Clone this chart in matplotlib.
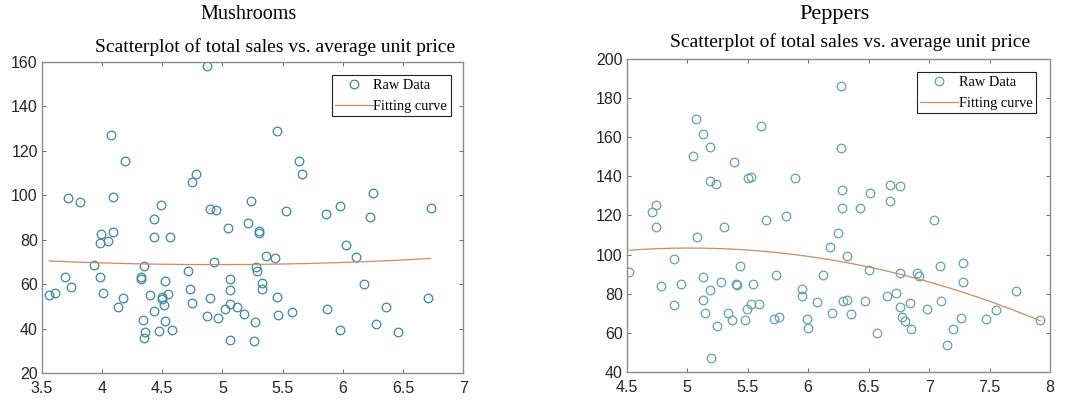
import matplotlib
matplotlib.use('Agg')
import matplotlib.pyplot as plt
from matplotlib.ticker import FormatStrFormatter
import numpy as np

# mushrooms: average unit price vs total sales
mush_price = [3.56, 3.61, 3.69, 3.72, 3.74, 3.82, 3.93, 3.98, 3.99, 3.98,
              4.05, 4.01, 4.07, 4.09, 4.09, 4.13, 4.17, 4.19, 4.32, 4.32,
              4.35, 4.34, 4.36, 4.35, 4.40, 4.43, 4.43, 4.43, 4.47, 4.49,
              4.50, 4.50, 4.51, 4.52, 4.52, 4.55, 4.56, 4.58, 4.71, 4.73,
              4.75, 4.78, 4.75, 4.87, 4.87, 4.90, 4.90, 4.95, 4.93, 4.96,
              5.02, 5.05, 5.06, 5.06, 5.06, 5.06, 5.12, 5.18, 5.21, 5.24,
              5.27, 5.26, 5.28, 5.29, 5.30, 5.30, 5.33, 5.33, 5.36, 5.44,
              5.45, 5.45, 5.46, 5.53, 5.58, 5.64, 5.66, 5.86, 5.87, 5.98,
              5.98, 6.03, 6.11, 6.18, 6.25, 6.23, 6.28, 6.36, 6.46, 6.71,
              6.73]
mush_sales = [55.2, 56.0, 63.1, 98.6, 58.5, 97.1, 68.4, 63.0, 82.5, 78.4,
              79.3, 56.0, 127.2, 99.4, 83.4, 49.8, 53.6, 115.4, 63.4, 62.5,
              68.1, 44.0, 38.4, 35.6, 54.9, 89.3, 81.4, 47.9, 39.0, 95.6,
              54.0, 53.3, 50.6, 61.2, 43.2, 55.7, 81.4, 39.2, 66.1, 57.8,
              106.0, 109.4, 51.3, 158.2, 45.5, 53.9, 93.8, 93.4, 69.9, 44.6,
              48.8, 85.4, 62.2, 57.2, 51.2, 35.0, 49.5, 46.5, 87.7, 97.4,
              43.1, 34.6, 67.9, 66.1, 83.8, 82.9, 60.4, 57.9, 72.7, 71.7,
              128.9, 54.3, 46.1, 93.1, 47.4, 115.4, 109.4, 91.4, 48.8, 95.2,
              39.2, 77.4, 72.0, 60.0, 101.2, 90.4, 42.0, 49.8, 38.6, 53.6,
              94.4]

# peppers: average unit price vs total sales
pep_price = [4.52, 4.71, 4.74, 4.74, 4.78, 4.89, 4.89, 4.95, 5.05, 5.07,
             5.08, 5.13, 5.13, 5.13, 5.15, 5.19, 5.19, 5.19, 5.20, 5.24,
             5.25, 5.28, 5.30, 5.34, 5.37, 5.39, 5.40, 5.41, 5.44, 5.48,
             5.49, 5.50, 5.53, 5.53, 5.54, 5.59, 5.61, 5.65, 5.73, 5.72,
             5.76, 5.82, 5.89, 5.95, 5.95, 5.99, 6.00, 6.07, 6.12, 6.18,
             6.20, 6.25, 6.27, 6.27, 6.28, 6.28, 6.29, 6.32, 6.32, 6.35,
             6.43, 6.47, 6.50, 6.51, 6.57, 6.65, 6.68, 6.68, 6.73, 6.76,
             6.76, 6.76, 6.78, 6.80, 6.84, 6.85, 6.90, 6.92, 6.98, 7.04,
             7.09, 7.10, 7.15, 7.20, 7.26, 7.28, 7.28, 7.47, 7.55, 7.72,
             7.92]
pep_sales = [91.2, 121.6, 125.4, 114.3, 84.0, 97.7, 74.0, 84.9, 150.1, 169.4,
             109.2, 161.6, 88.3, 76.9, 69.9, 154.9, 137.8, 82.0, 47.0, 136.3,
             63.6, 86.1, 114.3, 69.9, 66.5, 147.1, 84.9, 84.4, 94.3, 66.5,
             72.3, 139.0, 139.4, 74.7, 85.2, 74.7, 165.5, 117.4, 89.5, 67.0,
             68.2, 119.9, 139.0, 82.5, 78.8, 67.0, 62.7, 75.9, 89.3, 103.7,
             70.2, 110.9, 186.0, 154.4, 133.1, 123.7, 76.4, 76.7, 99.4, 69.4,
             123.8, 76.4, 92.0, 131.4, 60.0, 78.8, 127.6, 135.6, 80.1, 134.8,
             90.7, 73.3, 68.2, 66.1, 75.3, 62.0, 90.4, 89.0, 72.4, 117.4,
             94.3, 76.4, 54.0, 62.2, 67.8, 85.8, 95.5, 67.3, 71.9, 81.5,
             66.5]

plt.rcParams['font.family'] = ['Liberation Sans', 'DejaVu Sans']

fig = plt.figure(figsize=(10.66, 4.03), dpi=100)

panels = [
    # name, x, y, axes rect, xlim, ylim, marker colour, title x, title size, subtitle x, subtitle y, legend anchor
    ('Mushrooms', mush_price, mush_sales, [0.0394, 0.0744, 0.395, 0.772],
     (3.5, 7), (20, 160), '#3f86a6', 0.2336, 14.5, 0.2585, 0.883, (0.971, 0.958)),
    ('Peppers', pep_price, pep_sales, [0.588, 0.077, 0.397, 0.777],
     (4.5, 8), (40, 200), '#62a2ac', 0.783, 16, 0.797, 0.896, (0.967, 0.958)),
]

for name, px, py, rect, xl, yl, mc, tx, tsize, sx, sy, anchor in panels:
    ax = fig.add_axes(rect)
    px = np.array(px)
    py = np.array(py)

    # quadratic least-squares fit
    coef = np.polyfit(px, py, 2)
    xs = np.linspace(px.min(), px.max(), 200)

    ax.plot(px, py, 'o', mfc='none', mec=mc, ms=6.2, mew=0.9, label='Raw Data')
    ax.plot(xs, np.polyval(coef, xs), color='#d08a60', lw=0.9, label='Fitting curve')

    ax.set_xlim(*xl)
    ax.set_ylim(*yl)
    ax.xaxis.set_major_formatter(FormatStrFormatter('%g'))
    ax.yaxis.set_major_formatter(FormatStrFormatter('%g'))
    for s in ax.spines.values():
        s.set_color('#8a8a8a')
        s.set_linewidth(1.0)
    ax.tick_params(direction='in', length=3, width=0.6, color='#555555',
                   top=True, right=True, labelsize=11.5, labelcolor='#262626')
    ax.tick_params(axis='x', pad=6)
    ax.tick_params(axis='y', pad=3)

    leg = ax.legend(loc='upper right', bbox_to_anchor=anchor, borderaxespad=0,
                    fancybox=False, edgecolor='#222222', framealpha=1,
                    handlelength=2.6, borderpad=0.25, labelspacing=0.55,
                    handletextpad=0.05,
                    prop={'family': 'Liberation Serif', 'size': 10.4})
    leg.get_frame().set_linewidth(0.8)

    fig.text(tx, 0.965, name, ha='center', va='center',
             family='Liberation Serif', fontsize=tsize)
    fig.text(sx, sy, 'Scatterplot of total sales vs. average unit price',
             ha='center', va='center', family='Liberation Serif', fontsize=14)

fig.savefig('out.png', dpi=100)
